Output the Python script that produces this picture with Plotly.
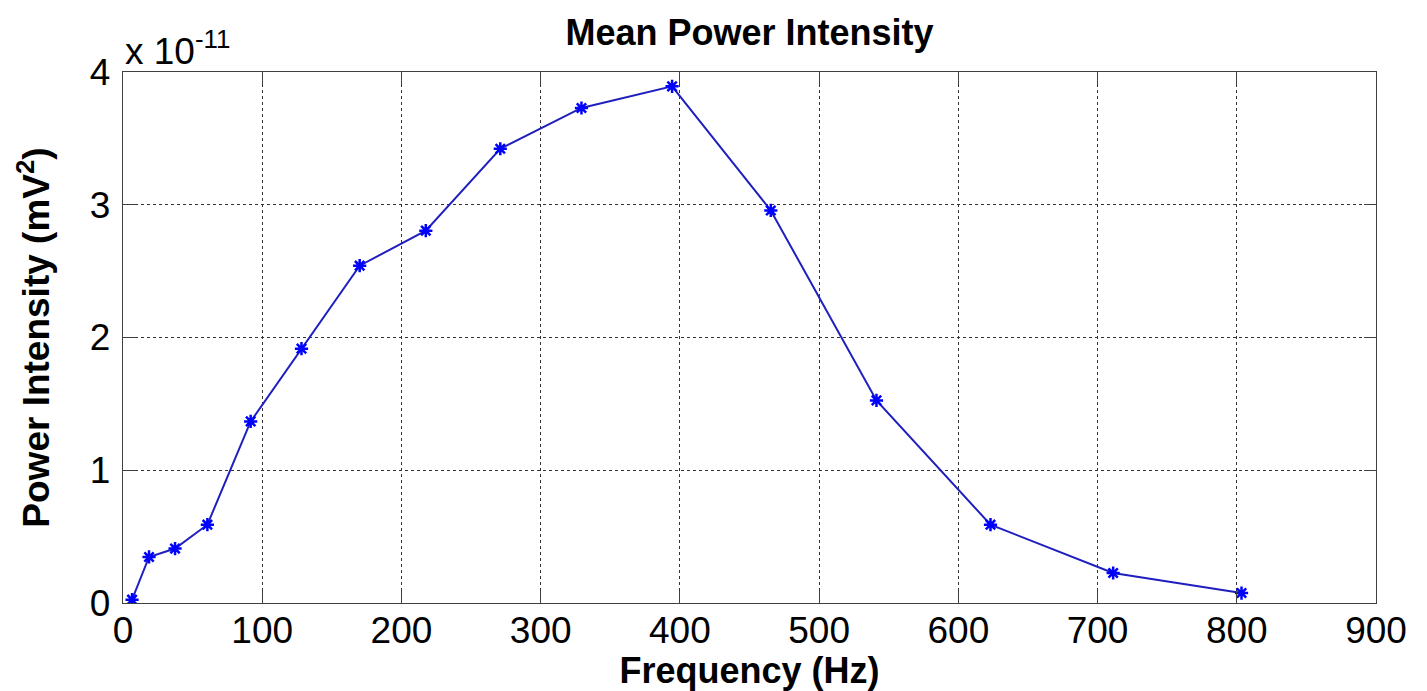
import plotly.graph_objects as go

# Data (y in units of 1e-11 mV^2)
frequency_hz = [6.5, 18.7, 37.4, 60.6, 91.7, 128.2, 170.0, 217.5, 271.0, 329.3,
                394.4, 465.3, 541.2, 623.1, 711.2, 803.4]
power_e11 = [0.025, 0.347, 0.41, 0.59, 1.368, 1.916, 2.541, 2.805, 3.422, 3.729,
             3.892, 2.957, 1.526, 0.59, 0.226, 0.075]
x_ticks = [0, 100, 200, 300, 400, 500, 600, 700, 800, 900]
y_ticks = [0, 1, 2, 3, 4]

FONT = "Liberation Sans, Arial, sans-serif"

fig = go.Figure()
fig.add_trace(go.Scatter(
    x=frequency_hz, y=power_e11, mode="lines+markers",
    line=dict(color="#1f1fc0", width=2),
    marker=dict(symbol="asterisk-open", size=11, color="#0000ff",
                line=dict(color="#0000ff", width=2.5)),
    showlegend=False,
))

axis_common = dict(
    showline=True, linecolor="#404040", linewidth=1.3, mirror="ticks",
    ticks="inside", ticklen=12, tickcolor="#404040", tickwidth=1.3,
    showgrid=True, gridcolor="#333333", griddash="dot", gridwidth=1,
    zeroline=False, automargin=False,
    tickfont=dict(family=FONT, size=37, color="#000000"),
)

fig.update_xaxes(range=[0, 900], tickvals=x_ticks,
                 title=dict(text="<b>Frequency (Hz)</b>",
                            font=dict(family=FONT, size=36, color="#000000"),
                            standoff=0),
                 ticklabelstandoff=-6,
                 **axis_common)
fig.update_yaxes(range=[0, 4], tickvals=y_ticks,
                 title=dict(text="<b>Power Intensity (mV<sup>2</sup>)</b>",
                            font=dict(family=FONT, size=37, color="#000000"),
                            standoff=28),
                 ticklabelstandoff=4,
                 **axis_common)

fig.add_annotation(text="x 10<sup>-11</sup>", xref="paper", yref="paper",
                   x=0, y=1, xanchor="left", yanchor="bottom", showarrow=False,
                   font=dict(family=FONT, size=37, color="#000000"), yshift=-2)

fig.update_layout(
    width=1427, height=691,
    margin=dict(l=123, r=51, t=72, b=88),
    paper_bgcolor="white", plot_bgcolor="white",
    title=dict(text="<b>Mean Power Intensity</b>", x=0.5, xanchor="center",
               xref="paper", yref="container", y=1 - 32 / 691, yanchor="middle",
               font=dict(family=FONT, size=36, color="#000000")),
)

fig.write_html("out.html")
